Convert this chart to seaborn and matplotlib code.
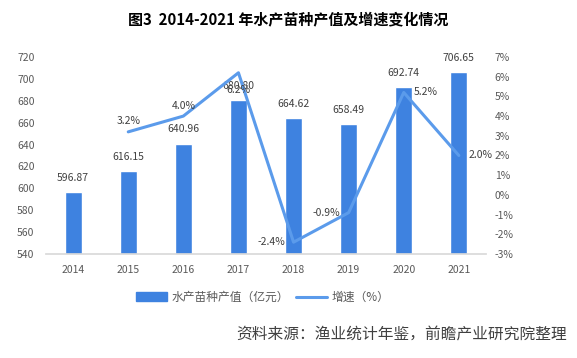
import numpy as np
import pandas as pd
import matplotlib
matplotlib.use("Agg")
import matplotlib.pyplot as plt
import seaborn as sns
from matplotlib.patches import Patch
from matplotlib.lines import Line2D

years = ["2014", "2015", "2016", "2017", "2018", "2019", "2020", "2021"]
output_value = [596.87, 616.15, 640.96, 680.80, 664.62, 658.49, 692.74, 706.65]
growth_years = ["2015", "2016", "2017", "2018", "2019", "2020", "2021"]
growth_rate = [3.2, 4.0, 6.2, -2.4, -0.9, 5.2, 2.0]
# where each growth label sits relative to its point
label_side = ["above", "above", "below", "left", "left", "right", "right"]

sns.set_theme(style="white")
plt.rcParams['font.family'] = ['Noto Sans CJK SC', 'DejaVu Sans']

bar_color = "#3E82E0"
line_color = "#5B9BEB"
tick_color = "#595959"

df = pd.DataFrame({"year": years, "value": output_value})

fig = plt.figure(figsize=(5.77, 3.58), dpi=100)
ax = fig.add_axes([0.079, 0.2905, 0.764, 0.5503])

sns.barplot(data=df, x="year", y="value", color=bar_color, width=0.31,
            saturation=1, ax=ax)
ax.set_ylim(540, 720)
ax.set_yticks(np.arange(540, 721, 20))
ax.set_xlabel("")
ax.set_ylabel("")
for i, v in enumerate(output_value):
    ax.annotate(f"{v:.2f}", (i, v), xytext=(0, 6.5), textcoords="offset points",
                ha="center", va="bottom", fontsize=7.5, color="#404040")

ax.tick_params(axis="both", labelsize=7.5, colors=tick_color, length=0, pad=8)
for s in ["top", "right", "left"]:
    ax.spines[s].set_visible(False)
ax.spines["bottom"].set_color("#D9D9D9")

ax2 = ax.twinx()
gx = [years.index(y) for y in growth_years]
sns.lineplot(x=gx, y=growth_rate, color=line_color, linewidth=2.2, ax=ax2)
ax2.set_ylim(-3, 7)
ax2.set_yticks(np.arange(-3, 8, 1))
ax2.set_yticklabels([f"{t}%" for t in range(-3, 8)])
ax2.tick_params(axis="y", labelsize=7.5, colors=tick_color, length=0, pad=6)
for s in ["top", "right", "left", "bottom"]:
    ax2.spines[s].set_visible(False)

offsets = {"above": ((0, 4), "center", "bottom"),
           "below": ((0, -9), "center", "top"),
           "left": ((-6, 0), "right", "center"),
           "right": ((7, 0), "left", "center")}
for x, r, side in zip(gx, growth_rate, label_side):
    off, ha, va = offsets[side]
    ax2.annotate(f"{r:.1f}%", (x, r), xytext=off, textcoords="offset points",
                 ha=ha, va=va, fontsize=7.5, color="#404040")
ax.set_xlim(-0.5, 7.5)

handles = [Patch(color=bar_color), Line2D([0], [0], color=line_color, lw=2.2)]
fig.legend(handles, ["水产苗种产值（亿元）", "增速（%）"], loc="center", ncol=2,
           bbox_to_anchor=(0.455, 0.17), frameon=False, fontsize=8.5,
           handlelength=2.6, handleheight=0.7, columnspacing=0.6, handletextpad=0.4,
           labelcolor=tick_color)

fig.text(0.5, 0.945, "图3  2014-2021 年水产苗种产值及增速变化情况", ha="center", va="center",
         fontsize=10.8, fontweight="bold", color="#000000")
fig.text(0.983, 0.065, "资料来源：渔业统计年鉴，前瞻产业研究院整理", ha="right", va="center",
         fontsize=11.3, style="italic", color="#404040")

fig.savefig("out.png", dpi=100)
